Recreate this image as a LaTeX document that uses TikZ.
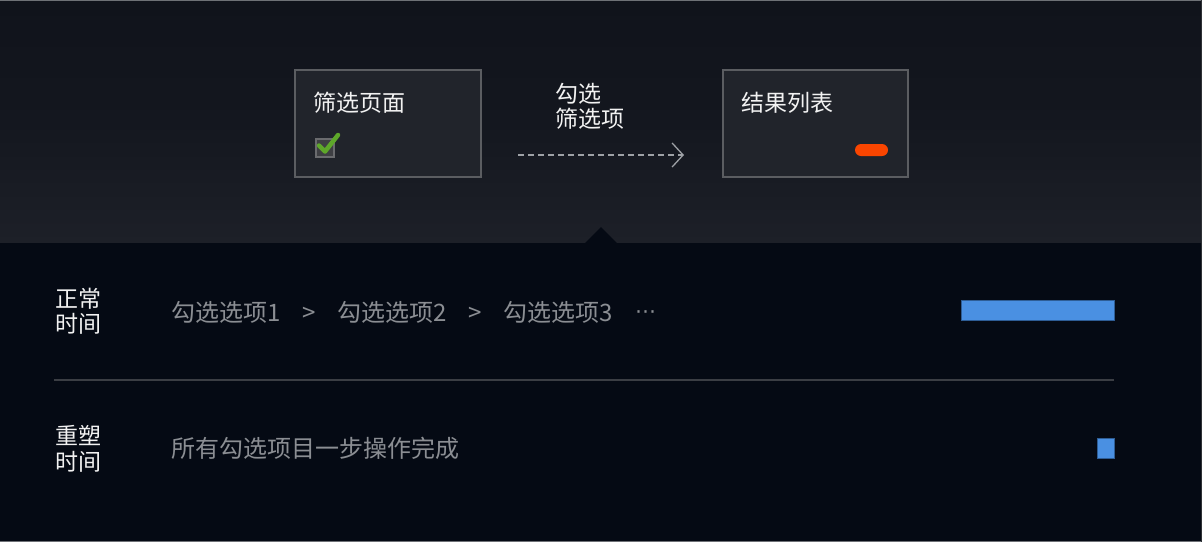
\documentclass[tikz,border=0pt]{standalone}
\usepackage{fontspec}
\setmainfont{Noto Sans CJK SC}
\newfontfamily\symfont{DejaVu Sans}
\usetikzlibrary{arrows.meta}
\definecolor{topA}{HTML}{10131B}
\definecolor{topB}{HTML}{1D2028}
\definecolor{botbg}{HTML}{050A14}
\definecolor{boxfill}{HTML}{21242B}
\definecolor{boxline}{HTML}{5B5D61}
\definecolor{whitetxt}{HTML}{F2F2F2}
\definecolor{greytxt}{HTML}{8B8E93}
\definecolor{arrowc}{HTML}{9EA1A6}
\definecolor{orangec}{HTML}{FA4500}
\definecolor{greenc}{HTML}{5EA72A}
\definecolor{chkfill}{HTML}{3E3F43}
\definecolor{chkline}{HTML}{6A6B6E}
\definecolor{bluec}{HTML}{4A90E2}
\definecolor{blueline}{HTML}{2E5D95}
\definecolor{divc}{HTML}{3B3E44}
\definecolor{framec}{HTML}{6E7176}
\tikzset{
  panel/.style={draw=boxline, line width=1.5pt, fill=boxfill},
  wlabel/.style={anchor=base west, inner sep=0pt, text=whitetxt, font=\fontsize{23}{26}\selectfont},
  glabel/.style={anchor=base west, inner sep=0pt, text=greytxt, font=\fontsize{24}{28}\selectfont},
  bar/.style={fill=bluec, draw=blueline, line width=0.8pt},
  flow/.style={draw=arrowc, line width=1.2pt, dash pattern=on 6pt off 4pt, -{Straight Barb[length=11pt,width=24pt,line width=1.3pt]}}
}
\begin{document}
\begin{tikzpicture}[x=1pt, y=-1pt]
\useasboundingbox (0,0) rectangle (1202,542);
% backgrounds
\shade[top color=topA, bottom color=topB, middle color=topA!70!topB] (0,0) rectangle (1202,243);
\fill[botbg] (0,243) rectangle (1202,542);
\fill[botbg] (585,243) -- (601,227) -- (617,243) -- cycle;
\draw[framec, line width=1.2pt] (0,0.6) -- (1202,0.6);
\draw[framec, line width=1.2pt] (0,541.4) -- (1202,541.4);
\draw[divc!80!black, line width=0.8pt] (1201.6,0) -- (1201.6,542);
% top boxes
\node[panel, minimum width=186pt, minimum height=107pt, anchor=north west, inner sep=0pt] (box1) at (294,69) {};
\node[panel, minimum width=185pt, minimum height=107pt, anchor=north west, inner sep=0pt] (box2) at (722,69) {};
\node[wlabel] (t1) at (313,111) {筛选页面};
\node[wlabel] (t2) at (741,111) {结果列表};
% checkbox
\node[draw=chkline, fill=chkfill, line width=2pt, minimum size=18pt, inner sep=0pt, anchor=north west] (chk) at (315,138) {};
\draw[greenc, line width=4.5pt, line cap=round, line join=round] (319,145.5) -- (325,151.5) -- (338,135);
% orange pill
\node[fill=orangec, rounded corners=6pt, minimum width=33pt, minimum height=12pt, inner sep=0pt] (pill) at (871.5,150) {};
% arrow label
\node[wlabel] (la) at (555,102) {勾选};
\node[wlabel] (lb) at (555,127) {筛选项};
\coordinate (as) at (518,155);
\coordinate (ae) at (684,155);
\draw[flow] (as) -- (ae);
% bottom rows
\node[wlabel] (r1a) at (55,307) {正常};
\node[wlabel] (r1b) at (55,332) {时间};
\node[glabel] (s1) at (171,321) {勾选选项1};
\node[glabel] (g1) at (302,321) {>};
\node[glabel] (s2) at (337,321) {勾选选项2};
\node[glabel] (g2) at (468,321) {>};
\node[glabel] (s3) at (503,321) {勾选选项3};
\node[anchor=base west, inner sep=0pt, text=greytxt, font=\symfont\fontsize{21}{24}\selectfont] (dots) at (635,318) {⋯};
\node[bar, minimum width=153pt, minimum height=20pt, inner sep=0pt, anchor=north west] (bar1) at (961,300) {};
\coordinate (d1) at (54,380);
\coordinate (d2) at (1114,380);
\draw[divc, line width=2pt] (d1) -- (d2);
\node[wlabel] (r2a) at (55,444) {重塑};
\node[wlabel] (r2b) at (55,470) {时间};
\node[glabel] (s4) at (171,457) {所有勾选项目一步操作完成};
\node[bar, minimum width=17pt, minimum height=20pt, inner sep=0pt, anchor=north west] (bar2) at (1097,438) {};
\end{tikzpicture}
\end{document}
